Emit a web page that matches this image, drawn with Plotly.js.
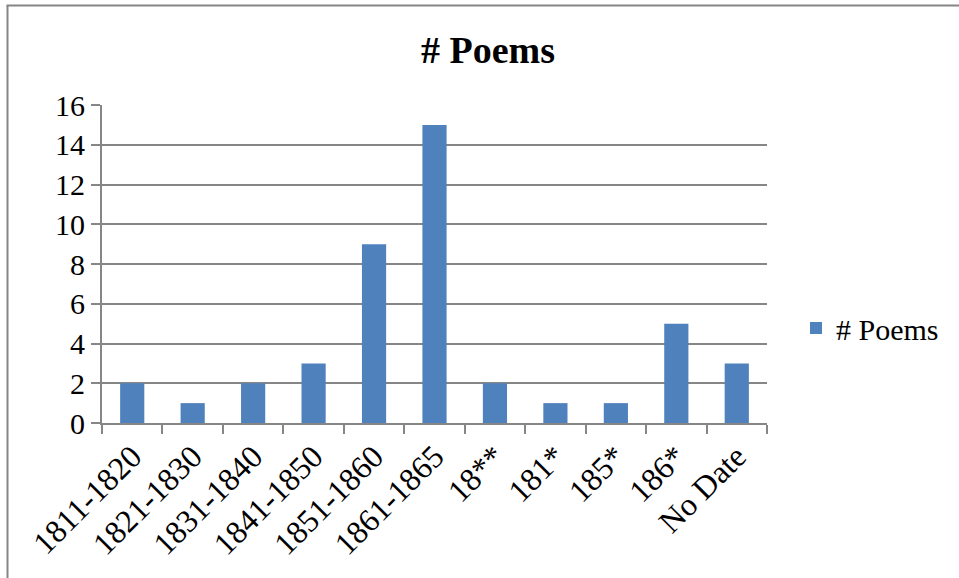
<!DOCTYPE html>
<html>
<head>
<meta charset="utf-8">
<script src="https://cdn.plot.ly/plotly-3.0.1.min.js"></script>
<style>html,body{margin:0;padding:0;background:#fff;}#chart{width:959px;height:578px;}</style>
</head>
<body>
<div id="chart"></div>
<script>
const categories = ["1811-1820","1821-1830","1831-1840","1841-1850","1851-1860","1861-1865","18**","181*","185*","186*","No Date"];
const poems = [2,1,2,3,9,15,2,1,1,5,3];
const seriesName = "# Poems";
const yTicks = [0,2,4,6,8,10,12,14,16];

const W = 959, H = 578;
const M = {l:102, r:192, t:105, b:155};
const pw = W - M.l - M.r, ph = H - M.t - M.b;
const px = v => (v - M.l) / pw;
const py = v => (H - M.b - v) / ph;
const FONT = "Liberation Serif, Times New Roman, serif";
const GRID = "#868686";

const trace = {
  type: "bar",
  x: categories,
  y: poems,
  name: seriesName,
  marker: {color: "#4F81BD"},
  showlegend: true
};

const layout = {
  width: W, height: H,
  margin: M,
  paper_bgcolor: "#fff",
  plot_bgcolor: "#fff",
  font: {family: FONT, color: "#000", size: 30},
  title: {text: "<b># Poems</b>", x: 488/W, xanchor: "center", y: 1 - 50/H, yanchor: "middle", font: {family: FONT, size: 38, color: "#000"}},
  bargap: 0.6,
  showlegend: true,
  legend: {x: px(796), xanchor: "left", y: py(328), yanchor: "middle", font: {family: FONT, size: 30}, bgcolor: "rgba(0,0,0,0)"},
  xaxis: {
    type: "category",
    tickangle: -45,
    ticks: "outside", ticklen: 9, tickwidth: 2, tickcolor: GRID,
    tickson: "boundaries",
    showline: true, linecolor: GRID, linewidth: 2,
    showgrid: false,
    tickfont: {family: FONT, size: 32},
    fixedrange: true
  },
  yaxis: {
    range: [0, 16],
    tickvals: yTicks,
    ticktext: yTicks.map(String),
    ticks: "outside", ticklen: 9, tickwidth: 2, tickcolor: GRID,
    showline: true, linecolor: GRID, linewidth: 2,
    showgrid: true, gridcolor: GRID, gridwidth: 2,
    zeroline: false,
    tickfont: {family: FONT, size: 30},
    fixedrange: true
  },
  shapes: [
    {type: "line", xref: "paper", yref: "paper", x0: px(6.5), x1: px(959), y0: py(5.5), y1: py(5.5), line: {color: GRID, width: 2}},
    {type: "line", xref: "paper", yref: "paper", x0: px(7.5), x1: px(7.5), y0: py(5.5), y1: py(578), line: {color: GRID, width: 2}}
  ]
};

Plotly.newPlot("chart", [trace], layout, {displayModeBar: false, staticPlot: true});
</script>
</body>
</html>
